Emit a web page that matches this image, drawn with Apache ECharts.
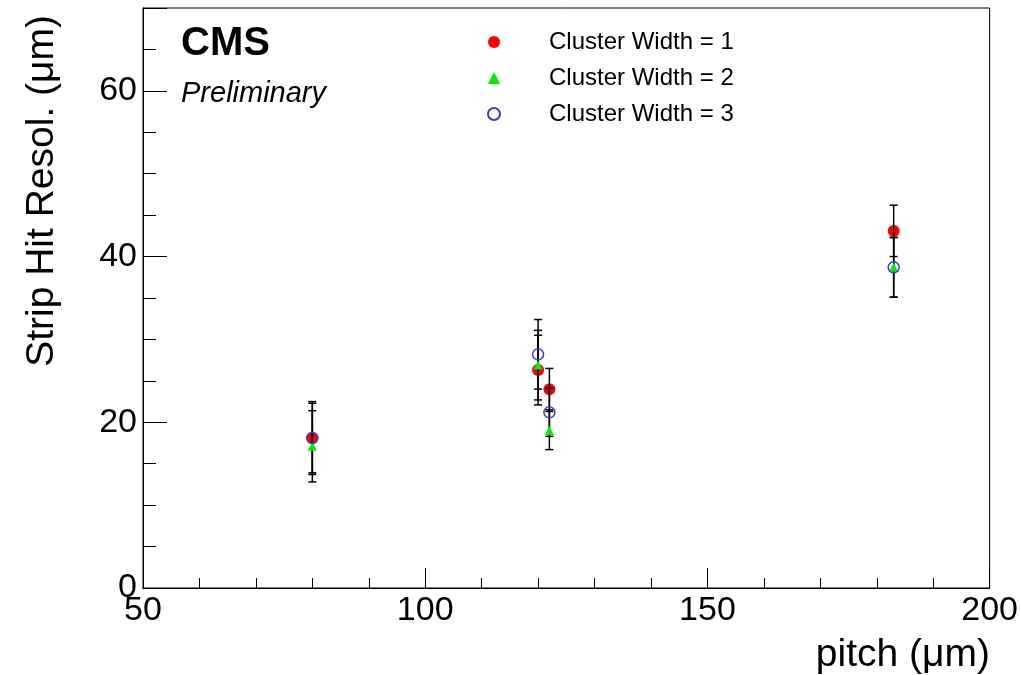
<!DOCTYPE html>
<html>
<head>
<meta charset="utf-8">
<script src="https://cdn.jsdelivr.net/npm/echarts@6/dist/echarts.min.js"></script>
<style>html,body{margin:0;padding:0;background:#fff}#c{width:1021px;height:675px}</style>
</head>
<body>
<div id="c"></div>
<script>
var pitch = [80, 120, 122, 183];
var cw1 = [18.1, 26.3, 24.0, 43.1];
var err1 = [4.2, 4.2, 2.5, 3.1];
var cw2 = [17.1, 26.9, 19.0, 38.7];
var err2 = [4.3, 4.2, 2.3, 3.6];
var cw3 = [18.1, 28.2, 21.2, 38.7];
var err3 = [4.4, 4.2, 2.9, 3.6];
var seriesNames = ['Cluster Width = 1', 'Cluster Width = 2', 'Cluster Width = 3'];
var xTicks = [50, 100, 150, 200];
var yTicks = [0, 20, 40, 60];

var FONT = '"Liberation Sans", Arial, Helvetica, sans-serif';
function pts(v) { return pitch.map(function (p, i) { return [p, v[i]]; }); }
function errs(v, e) { return pitch.map(function (p, i) { return [p, v[i] - e[i], v[i] + e[i]]; }); }
var errData = errs(cw1, err1).concat(errs(cw2, err2), errs(cw3, err3));

var chart = echarts.init(document.getElementById('c'), null, {renderer: 'canvas'});
var axisLine = {show: true, lineStyle: {color: '#000', width: 1}};
chart.setOption({
  animation: false,
  backgroundColor: '#fff',
  grid: {left: 143, right: 31, top: 8, bottom: 87, show: true, borderColor: '#000', borderWidth: 1},
  legend: {
    orient: 'vertical', left: 482, top: 25, itemWidth: 12, itemHeight: 12, itemGap: 12,
    textStyle: {fontFamily: FONT, fontSize: 24, color: '#000', padding: [0, 0, 0, 44]},
    data: seriesNames
  },
  xAxis: [
    {type: 'value', min: 50, max: 200, interval: 10, position: 'bottom',
     axisLine: axisLine, axisTick: {show: true, inside: true, length: 10, lineStyle: {color: '#000'}},
     axisLabel: {show: false}, splitLine: {show: false}},
    {type: 'value', min: 50, max: 200, interval: 50, position: 'bottom', gridIndex: 0,
     axisLine: axisLine, axisTick: {show: true, inside: true, length: 20, lineStyle: {color: '#000'}},
     axisLabel: {show: true, fontFamily: FONT, fontSize: 34, color: '#000', margin: 6,
       formatter: function (v) { return xTicks.indexOf(v) >= 0 ? String(v) : ''; }},
     splitLine: {show: false}}
  ],
  yAxis: [
    {type: 'value', min: 0, max: 70, interval: 5, position: 'left',
     axisLine: axisLine, axisTick: {show: true, inside: true, length: 13, lineStyle: {color: '#000'}},
     axisLabel: {show: false}, splitLine: {show: false}},
    {type: 'value', min: 0, max: 70, interval: 20, position: 'left', offset: 0,
     axisLine: axisLine, axisTick: {show: true, inside: true, length: 24, lineStyle: {color: '#000'}},
     axisLabel: {show: true, fontFamily: FONT, fontSize: 34, color: '#000', margin: 6,
       formatter: function (v) { return yTicks.indexOf(v) >= 0 ? String(v) : ''; }},
     splitLine: {show: false}}
  ],
  graphic: [
    {type: 'text', left: 181, top: 24, style: {text: 'CMS', font: 'bold 40px ' + FONT, fill: '#000'}},
    {type: 'text', left: 181, top: 79, style: {text: 'Preliminary', font: 'italic 29px ' + FONT, fill: '#000'}},
    {type: 'text', x: 42, y: 15, rotation: Math.PI / 2,
     style: {text: 'Strip Hit Resol. (\u03bcm)', font: '39px ' + FONT, fill: '#000', align: 'right', verticalAlign: 'middle'}},
    {type: 'text', x: 990, y: 655,
     style: {text: 'pitch (\u03bcm)', font: '39px ' + FONT, fill: '#000', align: 'right', verticalAlign: 'middle'}}
  ],
  series: [
    {name: seriesNames[0], type: 'scatter', z: 2, symbol: 'circle', symbolSize: 12,
     itemStyle: {color: '#ff0000', opacity: 1}, data: pts(cw1)},
    {name: 'errors', type: 'custom', z: 3, data: errData,
     encode: {x: 0, y: [1, 2]},
     renderItem: function (params, api) {
       var x = api.value(0);
       var lo = api.coord([x, api.value(1)]);
       var hi = api.coord([x, api.value(2)]);
       var w = 4;
       var st = {stroke: '#000', lineWidth: 1.5};
       return {type: 'group', children: [
         {type: 'line', shape: {x1: lo[0], y1: lo[1], x2: hi[0], y2: hi[1]}, style: st},
         {type: 'line', shape: {x1: lo[0] - w, y1: lo[1], x2: lo[0] + w, y2: lo[1]}, style: st},
         {type: 'line', shape: {x1: hi[0] - w, y1: hi[1], x2: hi[0] + w, y2: hi[1]}, style: st}
       ]};
     }},
    {name: seriesNames[1], type: 'scatter', z: 4, symbol: 'triangle', symbolSize: 9,
     itemStyle: {color: '#00ee00', opacity: 1}, data: pts(cw2)},
    {name: seriesNames[2], type: 'scatter', z: 5, symbol: 'circle', symbolSize: 11,
     itemStyle: {color: 'rgba(255,255,255,0)', borderColor: '#3c3cc8', borderWidth: 1.5, opacity: 1}, data: pts(cw3)}
  ]
});
</script>
</body>
</html>
